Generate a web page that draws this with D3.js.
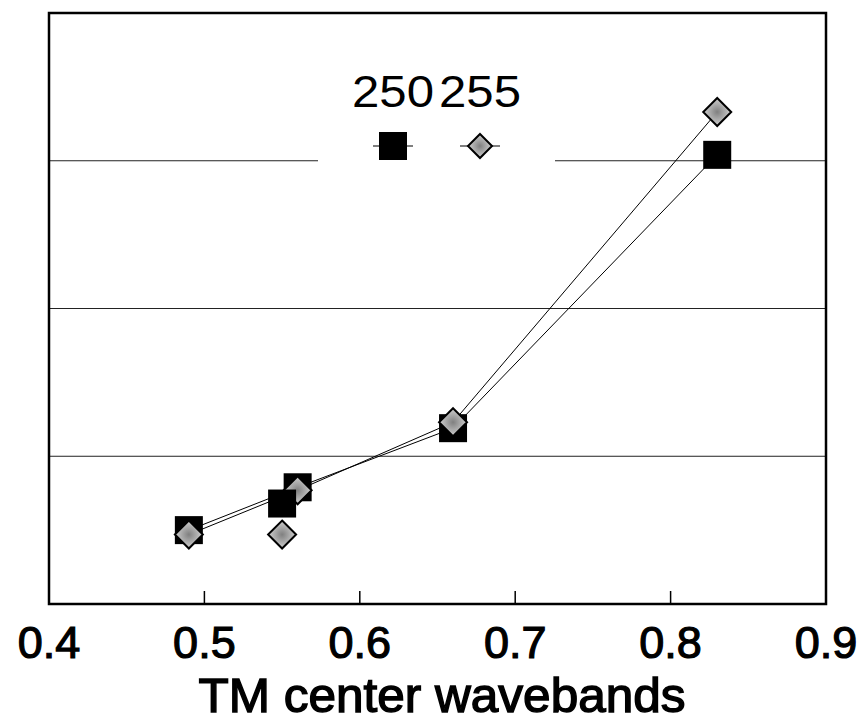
<!DOCTYPE html>
<html>
<head>
<meta charset="utf-8">
<script src="https://cdn.jsdelivr.net/npm/d3@7"></script>
<style>
  body { margin: 0; background: #fff; }
  text { font-family: "Liberation Sans", Arial, sans-serif; fill: #000; }
</style>
</head>
<body>
<div id="chart"></div>
<script>
// data (y has no labelled scale, units are grid steps)
var bands = [0.49, 0.56, 0.66, 0.83]
var s250 = [0.50, 0.79, 1.19, 3.04]
var s255 = [0.47, 0.77, 1.23, 3.33]
// extra unconnected points at 0.55
var extraBand = 0.55
var extra250 = 0.68
var extra255 = 0.47
var xTicks = [0.4, 0.5, 0.6, 0.7, 0.8, 0.9]
var yGrid = [1, 2, 3]
var seriesNames = ['250', '255']

var width = 866
var height = 723
var margin = {left: 49, right: 40, top: 13, bottom: 119}

var svg = d3.select('#chart')
  .append('svg')
  .attr('width', width)
  .attr('height', height)

var x = d3.scaleLinear().domain([0.4, 0.9]).range([margin.left, width - margin.right])
var y = d3.scaleLinear().domain([0, 4]).range([height - margin.bottom, margin.top])

var defs = svg.append('defs')
var grad = defs.append('radialGradient').attr('id', 'dgrey')
grad.append('stop').attr('offset', '0%').attr('stop-color', '#808080')
grad.append('stop').attr('offset', '100%').attr('stop-color', '#d0d0d0')

// grid lines
svg.append('g')
  .selectAll('line')
  .data(yGrid)
  .enter().append('line')
    .attr('x1', x(0.4))
    .attr('x2', x(0.9))
    .attr('y1', function(d) { return y(d) })
    .attr('y2', function(d) { return y(d) })
    .attr('stroke', '#222')
    .attr('stroke-width', 1)

// legend box (blanks out the top grid line)
var leg = svg.append('g')
leg.append('rect')
  .attr('x', 318).attr('y', 62)
  .attr('width', 237).attr('height', 110)
  .attr('fill', '#fff')

// bottom ticks, inside
svg.append('g')
  .selectAll('line')
  .data(xTicks.slice(1, -1))
  .enter().append('line')
    .attr('x1', function(d) { return x(d) })
    .attr('x2', function(d) { return x(d) })
    .attr('y1', y(0))
    .attr('y2', y(0) - 13)
    .attr('stroke', '#000')
    .attr('stroke-width', 1.5)

// frame
svg.append('rect')
  .attr('x', x(0.4))
  .attr('y', y(4))
  .attr('width', x(0.9) - x(0.4))
  .attr('height', y(0) - y(4))
  .attr('fill', 'none')
  .attr('stroke', '#000')
  .attr('stroke-width', 2.5)

// tick labels
svg.append('g')
  .selectAll('text')
  .data(xTicks)
  .enter().append('text')
    .attr('x', function(d) { return x(d) })
    .attr('y', 658)
    .attr('text-anchor', 'middle')
    .attr('font-size', 45)
    .attr('stroke', '#000')
    .attr('stroke-width', 1.2)
    .text(function(d) { return d3.format('.1f')(d) })

svg.append('text')
  .attr('x', 442)
  .attr('y', 712)
  .attr('text-anchor', 'middle')
  .attr('font-size', 48)
  .attr('textLength', 487)
  .attr('lengthAdjust', 'spacingAndGlyphs')
  .attr('stroke', '#000')
  .attr('stroke-width', 1.4)
  .text('TM center wavebands')

// lines
var line = d3.line()
  .x(function(d, i) { return x(bands[i]) })
  .y(function(d) { return y(d) })

svg.append('path').datum(s250).attr('d', line)
  .attr('fill', 'none').attr('stroke', '#000').attr('stroke-width', 1)
svg.append('path').datum(s255).attr('d', line)
  .attr('fill', 'none').attr('stroke', '#000').attr('stroke-width', 1)

function square(g, cx, cy) {
  g.append('rect')
    .attr('x', cx - 14).attr('y', cy - 14)
    .attr('width', 28).attr('height', 28)
    .attr('fill', '#000')
}
function diamond(g, cx, cy, r) {
  g.append('path')
    .attr('d', 'M' + cx + ',' + (cy - r) + 'L' + (cx + r) + ',' + cy + 'L' + cx + ',' + (cy + r) + 'L' + (cx - r) + ',' + cy + 'Z')
    .attr('fill', 'url(#dgrey)')
    .attr('stroke', '#000')
    .attr('stroke-width', 2)
}

var marks = svg.append('g')
s250.forEach(function(v, i) { square(marks, x(bands[i]), y(v)) })
s255.forEach(function(v, i) { diamond(marks, x(bands[i]), y(v), 14) })
square(marks, x(extraBand), y(extra250))
diamond(marks, x(extraBand), y(extra255), 14)

// legend
var lx = [393, 480]
leg.selectAll('text')
  .data(seriesNames)
  .enter().append('text')
    .attr('x', function(d, i) { return lx[i] })
    .attr('y', 107)
    .attr('text-anchor', 'middle')
    .attr('font-size', 45)
    .attr('textLength', 82)
    .attr('lengthAdjust', 'spacingAndGlyphs')
    .text(function(d) { return d })

lx.forEach(function(cx) {
  leg.append('line')
    .attr('x1', cx - 20).attr('x2', cx + 20)
    .attr('y1', 146).attr('y2', 146)
    .attr('stroke', '#000').attr('stroke-width', 1.2)
})
square(leg, lx[0], 146)
diamond(leg, lx[1], 146, 12)
</script>
</body>
</html>
